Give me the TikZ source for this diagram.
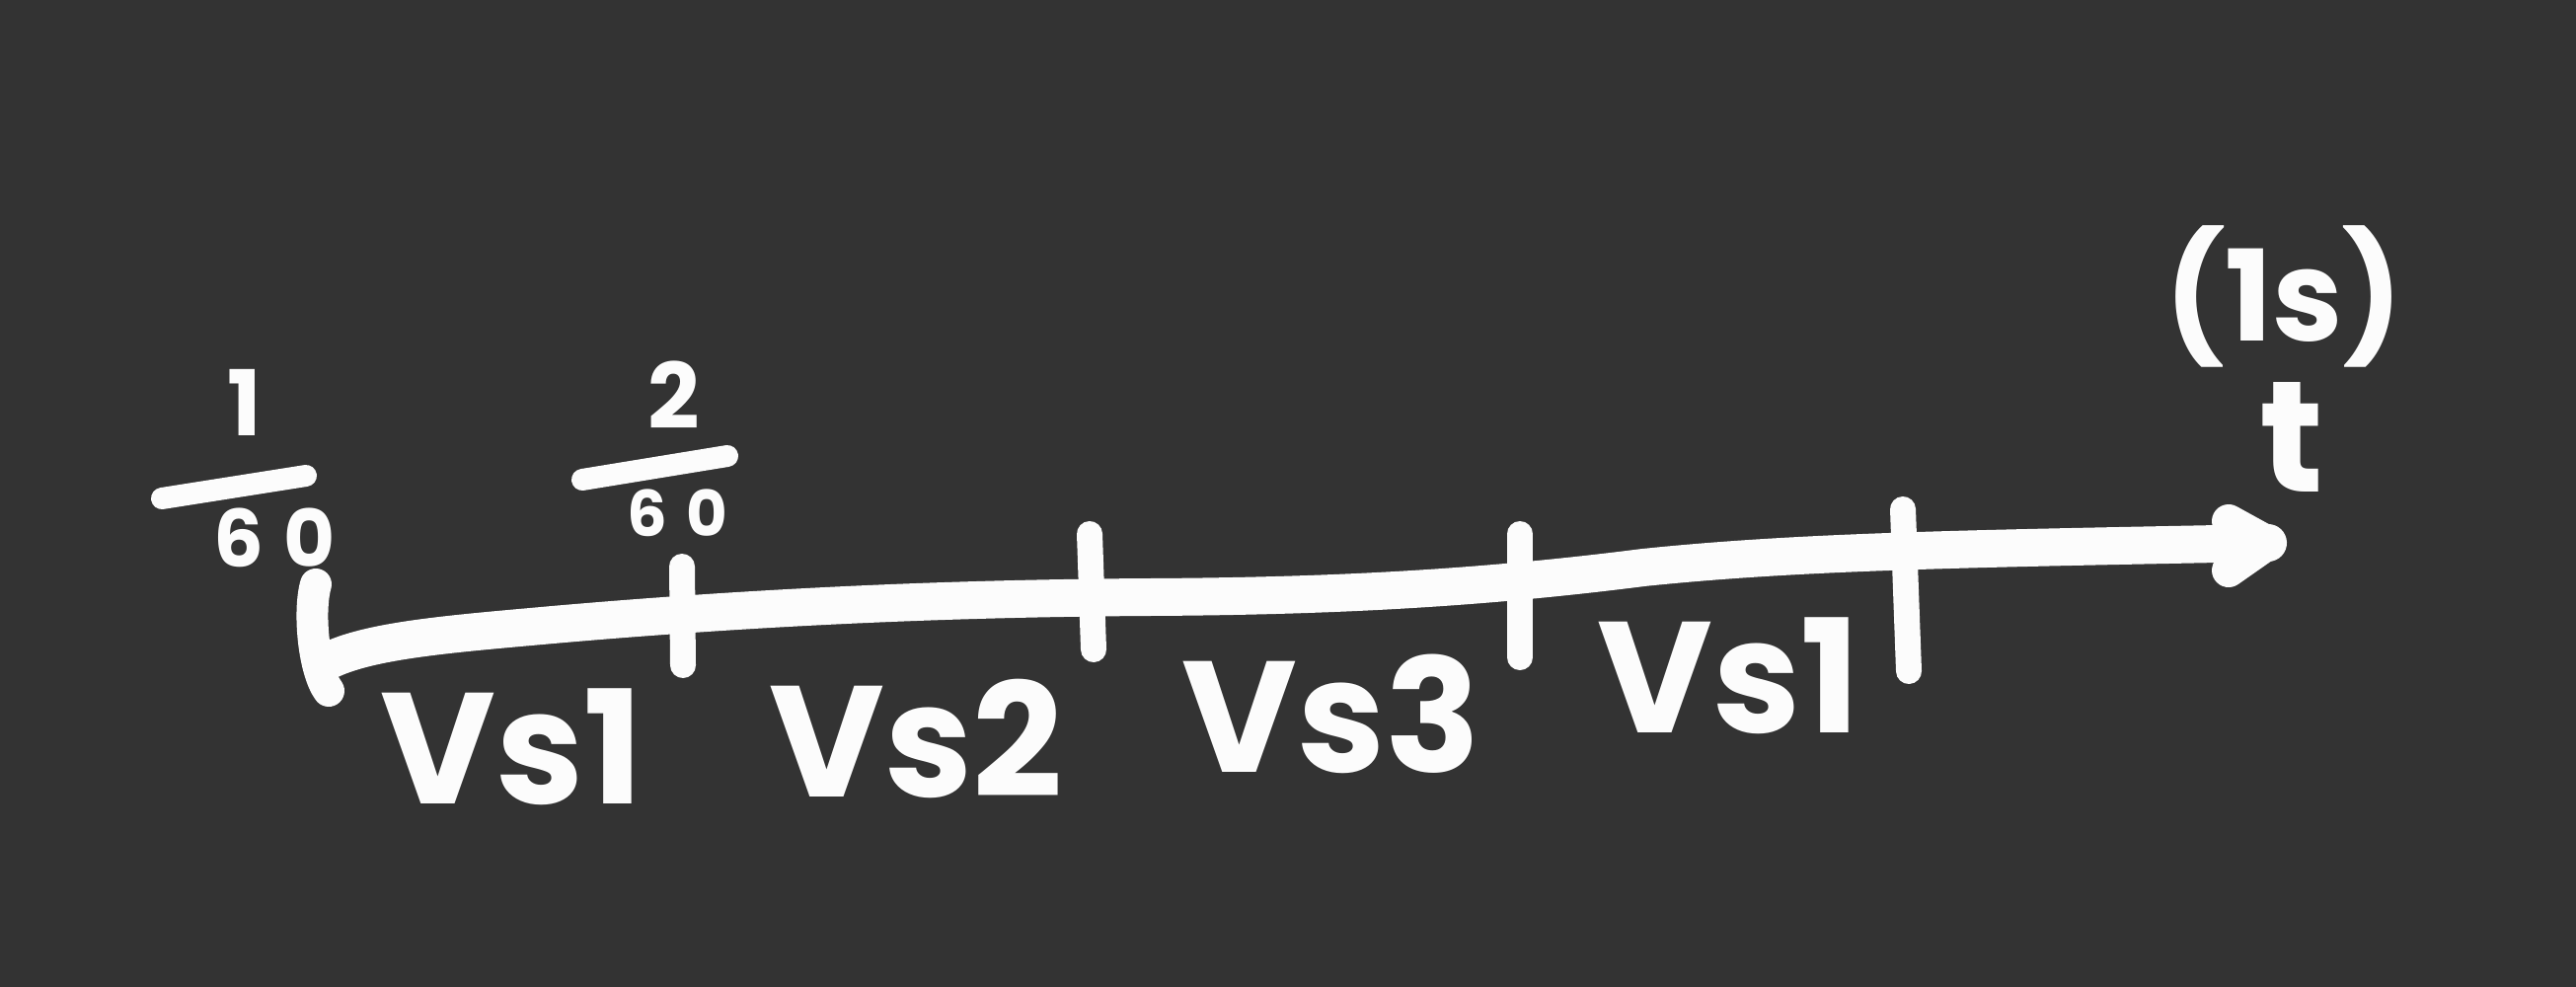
\documentclass[tikz,border=0pt]{standalone}
\usepackage{fontspec}
\setmainfont{Poppins}
\definecolor{bg}{HTML}{333333}
\definecolor{ink}{HTML}{FCFCFC}
\begin{document}
\begin{tikzpicture}[x=0.5pt,y=-0.5pt,
  stroke/.style={draw=ink,line width=19pt,line cap=round,line join=round},
  tickmark/.style={draw=ink,line width=13pt,line cap=round},
  barline/.style={draw=ink,line width=11pt,line cap=round},
  lab/.style={text=ink,inner sep=0pt,font=\fontsize{80}{90}\selectfont\bfseries},
  small/.style={text=ink,inner sep=0pt,font=\fontsize{46}{52}\selectfont\bfseries}]
\fill[bg] (0,0) rectangle (2610,1000);
\useasboundingbox (0,0) rectangle (2610,1000);
% main axis
\coordinate (start) at (336,668);
\coordinate (tip) at (2298,550);
\draw[stroke] (start) .. controls (380,648) and (460,642) .. (560,633)
  .. controls (800,612) and (1000,606) .. (1165,605)
  .. controls (1350,604) and (1500,596) .. (1665,575)
  .. controls (1830,558) and (2000,556) .. (tip);
% left hook
\coordinate (hooktop) at (320,592);
\coordinate (hookbot) at (333,700);
\draw[tickmark,line width=16pt] (hooktop) .. controls (312,620) and (318,680) .. (hookbot);
% arrow head
\coordinate (armA) at (2258,528);
\coordinate (armB) at (2258,578);
\draw[stroke,line width=17pt] (armA) -- (tip) -- (armB);
% ticks
\coordinate (t1a) at (691,574); \coordinate (t1b) at (692,674);
\coordinate (t2a) at (1104,541); \coordinate (t2b) at (1108,658);
\coordinate (t3a) at (1540,541); \coordinate (t3b) at (1540,666);
\coordinate (t4a) at (1928,516); \coordinate (t4b) at (1934,680);
\draw[tickmark] (t1a) -- (t1b);
\draw[tickmark] (t2a) -- (t2b);
\draw[tickmark] (t3a) -- (t3b);
\draw[tickmark] (t4a) -- (t4b);
% fraction 1/60
\node[small] (n1) at (248,408) {1};
\coordinate (b1a) at (164,505); \coordinate (b1b) at (310,482);
\draw[barline] (b1a) -- (b1b);
\node[small,font=\fontsize{40}{46}\selectfont\bfseries] (d1) at (278,545) {6\hspace{0.25em}0};
% fraction 2/60
\node[small] (n2) at (683,400) {2};
\coordinate (b2a) at (590,486); \coordinate (b2b) at (737,462);
\draw[barline] (b2a) -- (b2b);
\node[small,font=\fontsize{32}{38}\selectfont\bfseries] (d2) at (686,520) {6\hspace{0.3em}0};
% interval labels
\node[lab] (v1) at (519,757) {Vs1};
\node[lab] (v2) at (928,748) {Vs2};
\node[lab] (v3) at (1349,723) {Vs3};
\node[lab] (v4) at (1752,685) {Vs1};
% axis labels
\node[lab,font=\fontsize{64}{70}\selectfont\bfseries] (unit) at (2314,300) {(1s)};
\node[lab] (tl) at (2322,443) {t};
\end{tikzpicture}
\end{document}
